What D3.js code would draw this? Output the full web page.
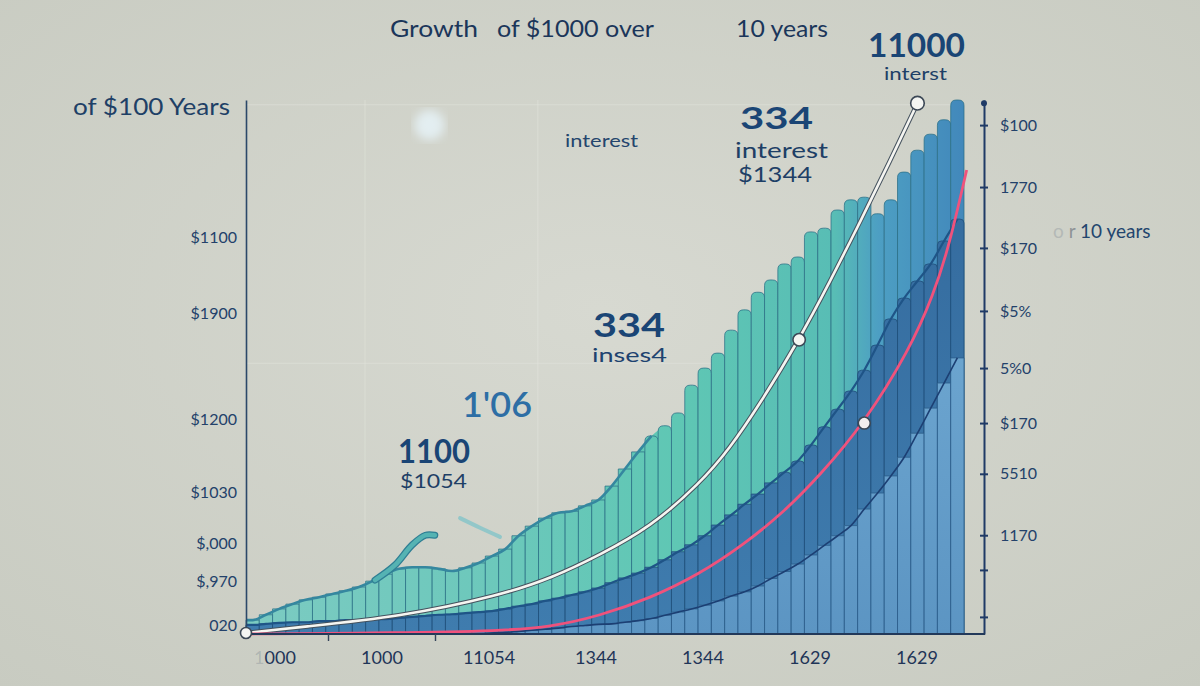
<!DOCTYPE html>
<html><head><meta charset="utf-8">
<script src="https://cdn.jsdelivr.net/npm/d3@7"></script>
<style>
body{margin:0;background:#d2d4cb;}
svg{display:block;font-family:Lato,"Open Sans","Noto Sans",sans-serif;}
</style>
</head><body>
<svg id="c" width="1200" height="686"></svg>
<script>
// ---------------- DATA ----------------
// top (teal) layer, one value per bar
const tealTop = [2.6,3.6,4.7,5.6,6.4,6.9,7.5,8.1,8.8,9.9,
  11.2,12.2,12.5,12.5,12.2,11.8,12.4,13.3,14.6,15.9,
  18.4,20.2,21.7,22.7,23.0,24.0,25.1,27.7,30.9,34.1,
  37.1,39.0,41.4,46.6,49.8,52.6,56.9,60.7,64.0,66.3,
  69.3,70.6,75.3,76.0,79.4,81.3,81.8,78.7,81.3,86.5,
  90.6,93.6,96.3,100.0];
// middle (dark blue) layer
const midTop = [1.7,1.9,2.1,2.2,2.2,2.4,2.4,2.6,2.6,2.8,
  2.8,3.0,3.2,3.4,3.6,3.7,3.9,4.1,4.3,4.7,
  5.2,5.6,6.2,6.7,7.3,7.9,8.6,9.6,10.5,11.4,
  12.5,13.9,15.4,16.7,18.4,20.4,22.3,24.3,26.2,28.3,
  30.3,32.4,35.4,38.8,42.1,45.5,49.4,54.1,59.0,62.9,
  66.1,69.3,73.6,77.7];
// bottom (light blue) layer
const lowTop = [0,0,0,0,0,0,0,0,0,0,
  0,0,0,0,0,0,0,0,0.2,0.3,
  0.5,0.7,0.9,1.1,1.4,1.6,1.8,1.9,2.2,2.5,
  2.9,3.5,4.1,4.7,5.4,6.2,7.1,7.9,9.0,10.4,
  11.7,13.1,14.8,16.6,18.4,20.3,23.4,26.4,29.6,33.1,
  37.6,42.3,47.0,51.7];
// white line
const whiteX = [0,4.06,11.6,19.1,23.1,26.6,30.4,34.1,36.4,38.6,41.6,43.9,46.2,48.4,50.5];
const whiteV = [0.2,1.3,3.2,7.2,10.6,14.8,20.0,28.1,34.8,42.9,55.1,65.9,77.2,88.4,99.4];
const whiteMarkers = [0,10,14];
// pink line
const pinkX = [0,11.6,19.1,22.9,26.6,30.4,34.1,37.4,40.4,43.2,46.5,49.9,51.7,52.9,54.2];
const pinkV = [0,0.2,0.6,1.3,3.4,6.7,11.2,16.7,22.7,29.8,39.5,53.2,63.5,72.8,86.9];
const pinkMarkers = [10];
// decorative swooshes
const swoosh1X = [9.7,11.2,12.5,13.5,14.2];
const swoosh1V = [10.1,12.9,16.7,18.5,18.5];
const swoosh2X = [16.1,17.6,19.1];
const swoosh2V = [21.7,19.9,18.2];
// axis tick labels
const leftTickVals = [74.3,60.1,40.1,26.6,17.0,9.9,1.7];
const leftLabels = ["$1100","$1900","$1200","$1030","$,000","$,970","020"];
const rightTickVals = [95.3,83.7,72.3,60.5,49.8,39.5,30.0,18.5,12.0,3.2];
const rightLabels = ["$100","1770","$170","$5%","5%0","$170","5510","1170","",""];
const bottomLabels = ["1000","1000","11054","1344","1344","1629","1629"];
const gridXs = [8.95,21.95];
const gridYs = [99.1,50.7];

// ---------------- SETUP ----------------
const svg = d3.select('#c');
const x = d3.scaleLinear().domain([0,54]).range([246,964]);
const y = d3.scaleLinear().domain([0,100]).range([634,100]);
const defs = svg.append('defs');

const bg = defs.append('radialGradient').attr('id','bg').attr('cx','50%').attr('cy','45%').attr('r','75%');
bg.append('stop').attr('offset','0%').attr('stop-color','#d7d9d1');
bg.append('stop').attr('offset','100%').attr('stop-color','#c8cbc1');

const tg = defs.append('linearGradient').attr('id','teal').attr('gradientUnits','userSpaceOnUse')
  .attr('x1',246).attr('x2',964).attr('y1',0).attr('y2',0);
[[0,'#7ccbc2'],[0.35,'#6cc8bb'],[0.6,'#5fc7b4'],[0.82,'#58bdb5'],[0.88,'#4d9fc3'],[1,'#4288bb']]
  .forEach(s=>tg.append('stop').attr('offset',s[0]).attr('stop-color',s[1]));
const mg = defs.append('linearGradient').attr('id','mid').attr('gradientUnits','userSpaceOnUse')
  .attr('x1',0).attr('x2',0).attr('y1',200).attr('y2',634);
mg.append('stop').attr('offset',0).attr('stop-color','#356c9f');
mg.append('stop').attr('offset',1).attr('stop-color','#3f7cae');
const lg = defs.append('linearGradient').attr('id','low').attr('gradientUnits','userSpaceOnUse')
  .attr('x1',0).attr('x2',0).attr('y1',330).attr('y2',634);
lg.append('stop').attr('offset',0).attr('stop-color','#6da6d0');
lg.append('stop').attr('offset',1).attr('stop-color','#5c95c3');
defs.append('filter').attr('id','blur').append('feGaussianBlur').attr('stdDeviation',5);

svg.append('rect').attr('width',1200).attr('height',686).attr('fill','url(#bg)');

// faint grid
svg.selectAll('.gx').data(gridXs).join('line').attr('x1',d=>x(d)).attr('x2',d=>x(d))
  .attr('y1',y(100)).attr('y2',y(0)).attr('stroke','#e2e5dd').attr('stroke-opacity',0.55);
svg.selectAll('.gy').data(gridYs).join('line').attr('x1',x(0)).attr('x2',x(54))
  .attr('y1',d=>y(d)).attr('y2',d=>y(d)).attr('stroke','#e2e5dd').attr('stroke-opacity',0.55);

// blob
svg.append('circle').attr('cx',x(13.8)).attr('cy',y(95.3)).attr('r',15)
  .attr('fill','#e3eef1').attr('filter','url(#blur)');

// ---------------- BARS ----------------
function barPath(i, v, r){
  const x0 = x(i), x1 = x(i+1), yt = y(v), yb = y(0);
  const rr = Math.min(r, (x1-x0)/2, yb-yt);
  if (rr <= 0.1) return `M${x0},${yb}V${yt}H${x1}V${yb}Z`;
  return `M${x0},${yb}V${yt+rr}Q${x0},${yt} ${x0+rr},${yt}H${x1-rr}Q${x1},${yt} ${x1},${yt+rr}V${yb}Z`;
}
const nSmooth = 30;
const tealPts = [[0,tealTop[0]]].concat(tealTop.map((d,i)=>[i+0.5,d])).slice(0,nSmooth+3);
const tealArea = d3.area().x(d=>x(d[0])).y0(y(0)).y1(d=>y(d[1])).curve(d3.curveMonotoneX);
svg.append('path').attr('d', tealArea(tealPts)).attr('fill','url(#teal)');
svg.append('g').selectAll('path').data(tealTop).join('path')
  .attr('d',(d,i)=>barPath(i,d,i>=nSmooth?5.5:0))
  .attr('fill','url(#teal)').attr('stroke','#2b6f86').attr('stroke-opacity',0.75).attr('stroke-width',1);
const tealLine = d3.line().x(d=>x(d[0])).y(d=>y(d[1])).curve(d3.curveMonotoneX);
svg.append('path').attr('d', tealLine(tealPts.slice(0,nSmooth+2)))
  .attr('fill','none').attr('stroke','#35879f').attr('stroke-width',2.6);

// mid layer
svg.append('g').selectAll('path').data(midTop).join('path')
  .attr('d',(d,i)=>barPath(i,d,i>=40?4:0))
  .attr('fill','url(#mid)').attr('stroke','#1f4f7a').attr('stroke-opacity',0.8).attr('stroke-width',1);
// low layer
svg.append('g').selectAll('path').data(lowTop).join('path')
  .attr('d',(d,i)=>barPath(i,d,0))
  .attr('fill','url(#low)').attr('stroke','#2a5c8a').attr('stroke-opacity',0.8).attr('stroke-width',1);

// outlines along layer tops
const midLineData = [[0,midTop[0]]].concat(midTop.map((d,i)=>[i+0.5,d]));
svg.append('path').attr('d', d3.line().x(d=>x(d[0])).y(d=>y(d[1])).curve(d3.curveMonotoneX)(midLineData))
  .attr('fill','none').attr('stroke','#1f5487').attr('stroke-width',2.2);
const lowLineData = lowTop.map((d,i)=>[i+0.5,d]).filter(d=>d[0]>16);
svg.append('path').attr('d', d3.line().x(d=>x(d[0])).y(d=>y(d[1])).curve(d3.curveMonotoneX)(lowLineData))
  .attr('fill','none').attr('stroke','#1c3f73').attr('stroke-width',1.6);

// swooshes
const sLine = d3.line().curve(d3.curveCatmullRom);
const s1 = swoosh1X.map((d,i)=>[x(d),y(swoosh1V[i])]);
svg.append('path').attr('d', sLine(s1))
  .attr('fill','none').attr('stroke','#2f7f94').attr('stroke-width',7).attr('stroke-linecap','round');
svg.append('path').attr('d', sLine(s1))
  .attr('fill','none').attr('stroke','#55b3b3').attr('stroke-width',4.5).attr('stroke-linecap','round');
svg.append('path').attr('d', sLine(swoosh2X.map((d,i)=>[x(d),y(swoosh2V[i])])))
  .attr('fill','none').attr('stroke','#7ec3c8').attr('stroke-width',4).attr('stroke-opacity',0.75).attr('stroke-linecap','round');

// ---------------- LINES ----------------
const ln = d3.line().x(d=>x(d[0])).y(d=>y(d[1])).curve(d3.curveBasis);
const whitePts = whiteX.map((d,i)=>[d,whiteV[i]]);
const pinkPts = pinkX.map((d,i)=>[d,pinkV[i]]);
svg.append('path').attr('d',ln(whitePts)).attr('fill','none').attr('stroke','#45525e').attr('stroke-width',4.6);
svg.append('path').attr('d',ln(whitePts)).attr('fill','none').attr('stroke','#f5f5f1').attr('stroke-width',2.6);
svg.append('path').attr('d',ln(pinkPts)).attr('fill','none').attr('stroke','#f0527c').attr('stroke-width',2.8);

// ---------------- AXES ----------------
const leftAxis = d3.axisLeft(y).tickValues(leftTickVals).tickFormat((d,i)=>leftLabels[i]).tickSize(0).tickPadding(9);
const gl = svg.append('g').attr('transform','translate(246,0)').call(leftAxis);
gl.select('.domain').attr('stroke','#2b4869').attr('stroke-width',1.6);
gl.selectAll('text').attr('font-size',16).attr('fill','#23416a').attr('font-family','Lato,"Open Sans",sans-serif');

const rightAxis = d3.axisRight(y).tickValues(rightTickVals).tickFormat((d,i)=>rightLabels[i]).tickSizeInner(4).tickSizeOuter(0).tickPadding(12);
const gr = svg.append('g').attr('transform','translate(984,0)').call(rightAxis);
gr.select('.domain').attr('stroke','#1f3a66').attr('stroke-width',2);
gr.selectAll('.tick line').attr('x1',-4).attr('x2',4).attr('stroke','#1f3a66').attr('stroke-width',2);
gr.selectAll('text').attr('font-size',16).attr('fill','#23416a').attr('font-family','Lato,"Open Sans",sans-serif');
gr.append('circle').attr('cx',0).attr('cy',y(99.4)).attr('r',3).attr('fill','#1f3a66');

// bottom axis
svg.append('line').attr('x1',x(0)).attr('x2',985).attr('y1',y(0)).attr('y2',y(0))
  .attr('stroke','#22395a').attr('stroke-width',2);
const bx = d3.scalePoint().domain(d3.range(bottomLabels.length)).range([275,917]);
svg.selectAll('.bl').data(bottomLabels).join('text')
  .attr('x',(d,i)=>bx(i)).attr('y',664).attr('text-anchor','middle')
  .attr('font-size',18).attr('fill','#1f3558')
  .each(function(d,i){
    const t = d3.select(this);
    if (i===0){ t.append('tspan').attr('fill-opacity',0.18).text(d[0]); t.append('tspan').text(d.slice(1)); }
    else t.text(d);
  });
svg.selectAll('.bt').data([0,1]).join('line')
  .attr('x1',i=>(bx(i)+bx(i+1))/2).attr('x2',i=>(bx(i)+bx(i+1))/2)
  .attr('y1',y(0)).attr('y2',y(0)+7).attr('stroke','#33445a').attr('stroke-width',1.4);

// markers
const circ = (pts, idx, rs, fill) => idx.forEach((k,j)=>{
  svg.append('circle').attr('cx',x(pts[k][0])).attr('cy',y(pts[k][1])).attr('r',rs[j])
    .attr('fill',fill).attr('stroke','#3c4856').attr('stroke-width',1.6);
});
circ(whitePts, whiteMarkers, [5.5,6.2,6.8], '#f4f5f2');
circ(pinkPts, pinkMarkers, [6], '#f3eeee');

// ---------------- TEXT ----------------
function txt(xp, yp, s, size, opts={}){
  const t = svg.append('text').attr('x',xp).attr('y',yp).attr('font-size',size)
    .attr('fill',opts.fill||'#1e3a5e').attr('font-weight',opts.weight||400)
    .attr('text-anchor',opts.anchor||'start').text(s);
  if (opts.len) t.attr('textLength',opts.len).attr('lengthAdjust','spacingAndGlyphs');
  return t;
}
txt(390,37,'Growth',23,{len:88,fill:'#1b365a'});
txt(497,37,'of $1000 over',23,{len:157,fill:'#1b365a'});
txt(736,37,'10 years',23,{len:92,fill:'#1b365a'});
txt(73,115,'of $100 Years',23,{len:157,fill:'#1e4066'});

txt(868,57,'11000',33,{len:97,weight:700,fill:'#1a4575'});
txt(884,80,'interst',17,{len:63,fill:'#1e3f66'});
txt(565,147,'interest',17,{len:73,fill:'#24456d'});
txt(740,129,'334',31,{len:73,weight:700,fill:'#1a4575'});
txt(735,158,'interest',22,{len:93,fill:'#1e3f66'});
txt(738,182,'$1344',21,{len:74,fill:'#1e3f66'});
txt(593,337,'334',33,{len:72,weight:700,fill:'#1a4575'});
txt(592,362,'inses4',20,{len:75,fill:'#1e4370'});
txt(462,417,"1'06",34,{len:70,weight:600,fill:'#2d6ea5'});
txt(398,463,'1100',32,{len:72,weight:700,fill:'#1a4575'});
txt(400,488,'$1054',19,{len:67,fill:'#1e3f66'});

const ot = svg.append('text').attr('x',1053).attr('y',238).attr('font-size',19).attr('fill','#23456e');
ot.append('tspan').attr('fill','#b4b9b6').text('o');
ot.append('tspan').attr('fill','#8e9496').text(' r');
ot.append('tspan').text(' 10 years');
</script>
</body></html>
